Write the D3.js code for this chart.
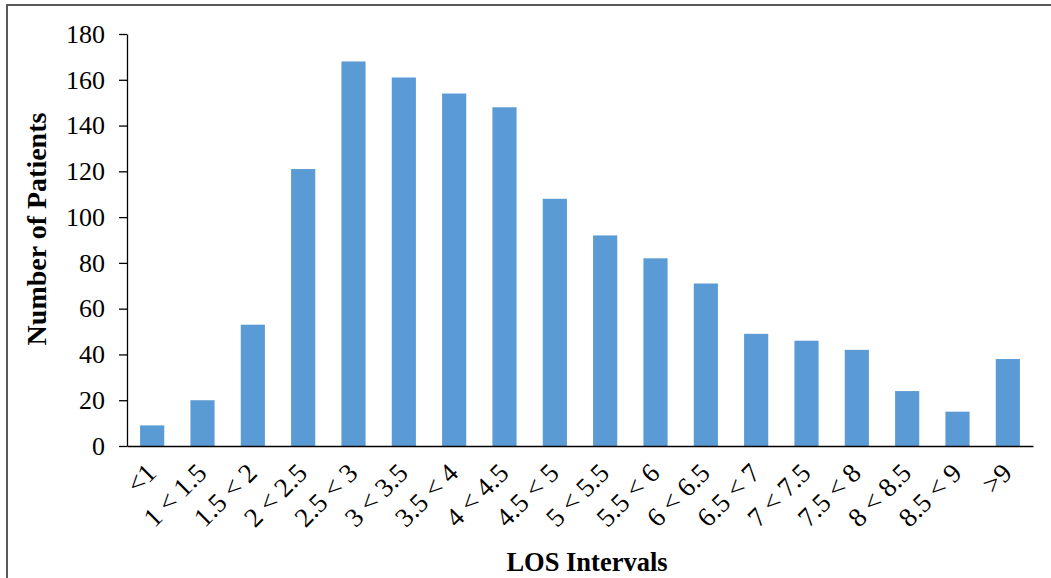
<!DOCTYPE html>
<html>
<head>
<meta charset="utf-8">
<script src="https://cdn.jsdelivr.net/npm/d3@7"></script>
<style>
  html, body { margin: 0; padding: 0; background: #fff; }
  svg { display: block; }
  text { font-family: "Liberation Serif", "Times New Roman", serif; fill: #000; }
</style>
</head>
<body>
<svg id="chart" width="1051" height="578"></svg>
<script>
// Length-of-stay intervals (days) and patient counts
const categories = ["<1", "1 < 1.5", "1.5 < 2", "2 < 2.5", "2.5 < 3", "3 < 3.5", "3.5 < 4",
  "4 < 4.5", "4.5 < 5", "5 < 5.5", "5.5 < 6", "6 < 6.5", "6.5 < 7", "7 < 7.5",
  "7.5 < 8", "8 < 8.5", "8.5 < 9", ">9"];
const patients = [9, 20, 53, 121, 168, 161, 154, 148, 108, 92, 82, 71, 49, 46, 42, 24, 15, 38];
const yTicks = [0, 20, 40, 60, 80, 100, 120, 140, 160, 180];

const svg = d3.select("#chart");

// outer frame
svg.append("rect")
  .attr("x", 7).attr("y", 5).attr("width", 1050).attr("height", 600)
  .attr("fill", "none").attr("stroke", "#595959").attr("stroke-width", 2);

const plotLeft = 127, plotRight = 1033, plotTop = 34, plotBottom = 446;

const x = d3.scaleBand().domain(categories).range([plotLeft, plotRight])
  .paddingInner(0.52).paddingOuter(0.26);
const y = d3.scaleLinear().domain([0, 180]).range([plotBottom, plotTop]);

// bars
svg.append("g").selectAll("rect").data(categories).join("rect")
  .attr("x", d => x(d))
  .attr("y", (d, i) => y(patients[i]))
  .attr("width", x.bandwidth())
  .attr("height", (d, i) => y(0) - y(patients[i]))
  .attr("fill", "#5B9BD5");

// y axis
const yAxis = svg.append("g").attr("transform", `translate(${plotLeft},0)`)
  .call(d3.axisLeft(y).tickValues(yTicks).tickSize(8).tickPadding(14).tickSizeOuter(0));
yAxis.select(".domain").attr("stroke", "#000").attr("stroke-width", 1.3);
yAxis.selectAll(".tick line").attr("stroke", "#000").attr("stroke-width", 1.3);
yAxis.selectAll(".tick text").style("font-size", "26px")
  .style("font-family", "'Liberation Serif', 'Times New Roman', serif").attr("fill", "#000");

// x axis baseline
const xAxis = svg.append("g").attr("transform", `translate(0,${plotBottom})`)
  .call(d3.axisBottom(x).tickSize(0).tickSizeOuter(0).tickFormat(() => ""));
xAxis.select(".domain").attr("stroke", "#000").attr("stroke-width", 1.6);

// rotated category labels
svg.append("g").selectAll("text").data(categories).join("text")
  .attr("transform", d => `translate(${x(d) + x.bandwidth() / 2 - 1},${plotBottom + 22}) rotate(-45)`)
  .attr("text-anchor", "end")
  .attr("dy", "0.35em")
  .style("font-size", "27px")
  .text(d => d);

// axis titles
svg.append("text")
  .attr("x", 587).attr("y", 571)
  .attr("text-anchor", "middle")
  .style("font-size", "26.5px").style("font-weight", "bold")
  .text("LOS Intervals");

svg.append("text")
  .attr("transform", "translate(46,229) rotate(-90)")
  .attr("text-anchor", "middle")
  .style("font-size", "28px").style("font-weight", "bold")
  .text("Number of Patients");
</script>
</body>
</html>
